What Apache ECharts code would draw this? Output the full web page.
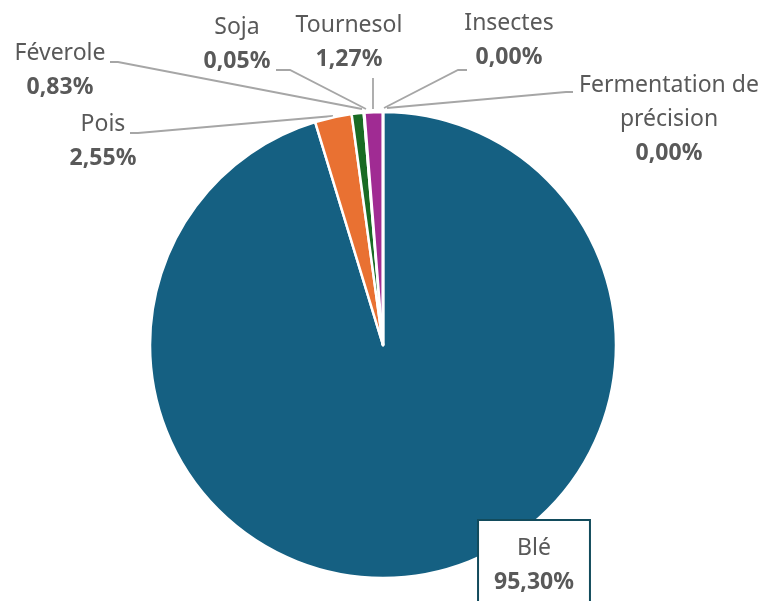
<!DOCTYPE html>
<html><head><meta charset="utf-8">
<script src="https://cdn.jsdelivr.net/npm/echarts@6/dist/echarts.min.js"></script>
<style>html,body{margin:0;padding:0;background:#fff}#c{width:767px;height:601px}</style>
</head><body><div id="c"></div>
<script>
const categories = ['Blé', 'Pois', 'Féverole', 'Soja', 'Tournesol', 'Insectes', 'Fermentation de précision'];
const values = [95.30, 2.55, 0.83, 0.05, 1.27, 0.00, 0.00];
const colors = ['#156082', '#E97132', '#196B24', '#0F9ED5', '#A02B93', '#4EA72E', '#0B3041'];

// label placement (pixel layout only)
const labelPos = [
  {x: 534, y: 571, line: null},
  {x: 103, y: 141, line: [[130,133],[138,133],[333,116]]},
  {x: 60, y: 70, line: [[110,62],[118,62],[362,109]]},
  {x: 237, y: 44, line: [[276,70],[290,70],[366,109]]},
  {x: 349, y: 42, line: [[373,78],[373,90],[373,109]]},
  {x: 509, y: 40, line: [[467,70],[458,70],[384,108]]},
  {x: 669, y: 119, line: [[573,92],[566,92],[387,108]]}
];

const chart = echarts.init(document.getElementById('c'));
const data = categories.map((n, i) => ({
  name: n, value: values[i],
  itemStyle: {color: colors[i]},
  label: i === 0 ? {backgroundColor: '#fff', borderColor: '#124B5C', borderWidth: 2, padding: [10, 15, 22, 15]} : {},
  labelLine: {show: i !== 0}
}));
chart.setOption({
  backgroundColor: '#fff',
  animation: false,
  series: [{
    type: 'pie',
    center: [383, 345],
    radius: 233,
    startAngle: 90,
    clockwise: true,
    avoidLabelOverlap: false,
    minShowLabelAngle: 0,
    data: data,
    itemStyle: {borderColor: '#fff', borderWidth: 2.5},
    label: {
      show: true,
      formatter: p => {
        const name = p.name === 'Fermentation de précision' ? '{n|Fermentation de}\n{n|précision}' : '{n|' + p.name + '}';
        return name + '\n{p|' + p.value.toFixed(2).replace('.', ',') + '%}';
      },
      rich: {
        n: {fontFamily: 'Noto Sans', fontSize: 23, color: '#595959', lineHeight: 34, align: 'center'},
        p: {fontFamily: 'Noto Sans', fontSize: 23, fontWeight: 'bold', color: '#595959', lineHeight: 34, align: 'center'}
      }
    },
    labelLine: {show: true, lineStyle: {color: '#A6A6A6', width: 1.8}},
    labelLayout: params => {
      const lp = labelPos[params.dataIndex];
      const r = {x: lp.x, y: lp.y, align: 'center', verticalAlign: 'middle'};
      if (lp.line) r.labelLinePoints = lp.line;
      return r;
    }
  }]
});
</script>
</body></html>
